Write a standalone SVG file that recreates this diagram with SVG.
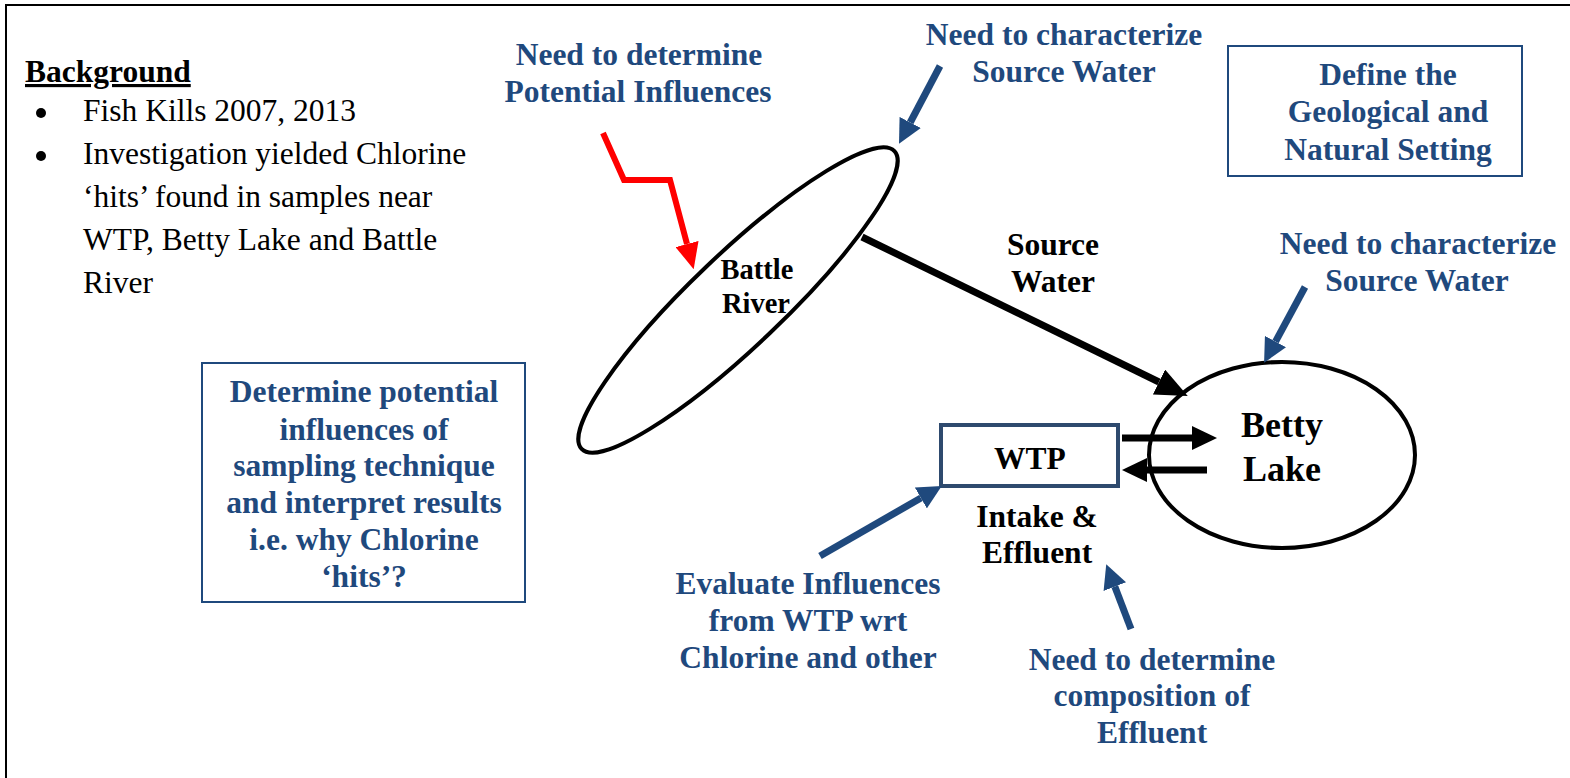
<svg xmlns="http://www.w3.org/2000/svg" width="1570" height="778" viewBox="0 0 1570 778">
<defs>
<style>
text{font-family:"Liberation Serif","Times New Roman",serif;}
.body{font-size:31.5px;fill:#000;}
.lbl{font-size:31.5px;font-weight:bold;text-anchor:middle;}
.blue{fill:#1F497D;}
.blk{fill:#000;}
.bbox{fill:none;stroke:#1F497D;stroke-width:2;}
.barrow{stroke:#1F497D;stroke-width:7;fill:none;}
.karrow{stroke:#000;stroke-width:7;fill:none;}
</style>
<marker id="bh" markerUnits="userSpaceOnUse" markerWidth="24" markerHeight="24" viewBox="0 0 22 22" refX="0" refY="11" orient="auto"><path d="M0,0 L22,11 L0,22 Z" fill="#1F497D"/></marker>
<marker id="kh" markerUnits="userSpaceOnUse" markerWidth="26" markerHeight="24" viewBox="0 0 24 23" refX="0" refY="11.5" orient="auto"><path d="M0,0 L24,11.5 L0,23 Z" fill="#000"/></marker>
<marker id="kh2" markerUnits="userSpaceOnUse" markerWidth="32" markerHeight="28" viewBox="0 0 30 26" refX="0" refY="13" orient="auto"><path d="M0,0 L30,13 L0,26 Z" fill="#000"/></marker>
<marker id="rh" markerUnits="userSpaceOnUse" markerWidth="26" markerHeight="24" viewBox="0 0 24 22" refX="0" refY="11" orient="auto"><path d="M0,0 L24,11 L0,22 Z" fill="#FF0000"/></marker>
</defs>
<rect width="1570" height="778" fill="#fff"/>
<path d="M6,778 V5 H1570" fill="none" stroke="#000" stroke-width="2"/>

<g id="background">
<text x="25" y="82" class="body" font-weight="bold" text-decoration="underline">Background</text>
<circle cx="41" cy="113" r="5" fill="#000"/>
<circle cx="41" cy="156" r="5" fill="#000"/>
<text x="83" y="121" class="body">Fish Kills 2007, 2013</text>
<text x="83" y="164" class="body">Investigation yielded Chlorine</text>
<text x="83" y="207" class="body">‘hits’ found in samples near</text>
<text x="83" y="250" class="body">WTP, Betty Lake and Battle</text>
<text x="83" y="293" class="body">River</text>
</g>

<g id="battle-river">
<ellipse cx="738" cy="300" rx="216" ry="46" transform="rotate(-43.6 738 300)" fill="none" stroke="#000" stroke-width="4"/>
<text class="lbl blk" style="font-size:28.5px" x="757" y="279">Battle</text>
<text class="lbl blk" style="font-size:28.5px" x="756" y="313">River</text>
</g>

<g id="betty-lake">
<ellipse cx="1282" cy="455" rx="133" ry="93" fill="none" stroke="#000" stroke-width="4"/>
<text class="lbl blk" style="font-size:36px" x="1282" y="437">Betty</text>
<text class="lbl blk" style="font-size:36px" x="1282" y="481">Lake</text>
</g>

<g id="wtp">
<rect x="941" y="425" width="177" height="61" fill="none" stroke="#2E4A6E" stroke-width="4"/>
<text class="lbl blk" x="1030" y="469">WTP</text>
<text class="lbl blk" x="1037" y="527">Intake &amp;</text>
<text class="lbl blk" x="1037" y="563">Effluent</text>
</g>

<g id="source-water-label">
<text class="lbl blk" x="1053" y="255">Source</text>
<text class="lbl blk" x="1053" y="292">Water</text>
</g>

<g id="need-determine-influences">
<text class="lbl blue" x="639" y="65">Need to determine</text>
<text class="lbl blue" x="638" y="102">Potential Influences</text>
</g>

<g id="need-characterize-1">
<text class="lbl blue" x="1064" y="45">Need to characterize</text>
<text class="lbl blue" x="1064" y="82">Source Water</text>
</g>

<g id="define-setting">
<rect x="1228" y="46" width="294" height="130" class="bbox"/>
<text class="lbl blue" x="1388" y="85">Define the</text>
<text class="lbl blue" x="1388" y="122">Geological and</text>
<text class="lbl blue" x="1388" y="160">Natural Setting</text>
</g>

<g id="need-characterize-2">
<text class="lbl blue" x="1418" y="254">Need to characterize</text>
<text class="lbl blue" x="1417" y="291">Source Water</text>
</g>

<g id="determine-sampling">
<rect x="202" y="363" width="323" height="239" class="bbox"/>
<text class="lbl blue" x="364" y="402">Determine potential</text>
<text class="lbl blue" x="364" y="440">influences of</text>
<text class="lbl blue" x="364" y="476">sampling technique</text>
<text class="lbl blue" x="364" y="513">and interpret results</text>
<text class="lbl blue" x="364" y="550">i.e. why Chlorine</text>
<text class="lbl blue" x="364" y="587">‘hits’?</text>
</g>

<g id="evaluate-wtp">
<text class="lbl blue" x="808" y="594">Evaluate Influences</text>
<text class="lbl blue" x="808" y="631">from WTP wrt</text>
<text class="lbl blue" x="808" y="668">Chlorine and other</text>
</g>

<g id="need-composition">
<text class="lbl blue" x="1152" y="670">Need to determine</text>
<text class="lbl blue" x="1152" y="706">composition of</text>
<text class="lbl blue" x="1152" y="743">Effluent</text>
</g>

<g id="connectors">
<line class="karrow" x1="862" y1="237" x2="1159" y2="382" marker-end="url(#kh2)"/>
<line class="karrow" x1="1122" y1="438" x2="1192" y2="438" marker-end="url(#kh)"/>
<line class="karrow" x1="1207" y1="470" x2="1147" y2="470" marker-end="url(#kh)"/>
<polyline points="603,133 624,180 670,180 687,244" fill="none" stroke="#FF0000" stroke-width="6" marker-end="url(#rh)"/>
<line class="barrow" x1="940" y1="66" x2="910.2" y2="122.5" marker-end="url(#bh)"/>
<line class="barrow" x1="1305" y1="287" x2="1275.5" y2="341.6" marker-end="url(#bh)"/>
<line class="barrow" x1="820" y1="556" x2="920.9" y2="498" marker-end="url(#bh)"/>
<line class="barrow" x1="1131" y1="629" x2="1114.8" y2="586.6" marker-end="url(#bh)"/>
</g>
</svg>
